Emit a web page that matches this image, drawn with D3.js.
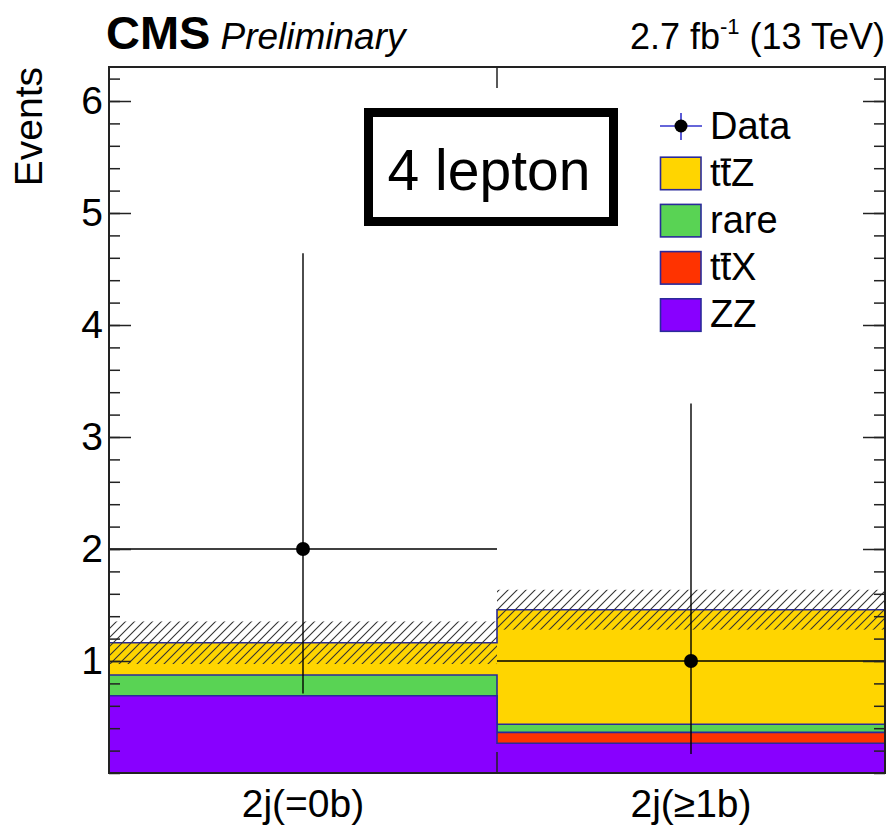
<!DOCTYPE html>
<html>
<head>
<meta charset="utf-8">
<script src="https://cdn.jsdelivr.net/npm/d3@7"></script>
<style>
  html, body { margin: 0; padding: 0; background: #fff; }
  svg { display: block; font-family: "Liberation Sans", Arial, Helvetica, sans-serif; }
</style>
</head>
<body>
<svg id="chart" width="889" height="830"></svg>
<script>
// Categories (jet / b-tag bins)
const categories = ["2j(=0b)", "2j(\u22651b)"];

// Expected yields per bin, stacked bottom to top: ZZ, ttX, rare, ttZ
const zzYield   = [0.69, 0.265];
const ttxYield  = [0.0, 0.098];
const rareYield = [0.185, 0.072];
const ttzYield  = [0.288, 1.023];

// Total background uncertainty (symmetric) per bin
const bkgUnc = [0.19, 0.178];

// Observed counts with asymmetric Poisson errors
const dataCounts  = [2, 1];
const dataErrLow  = [1.29, 0.83];
const dataErrHigh = [2.64, 2.30];

// Axis ticks
const yMajorTicks = [1, 2, 3, 4, 5, 6];
const yMinorTicks = d3.range(0, 6.31, 0.2);

// Process names, colours (legend order)
const legendNames  = ["Data", "ttZ", "rare", "ttX", "ZZ"];
const procColors   = { ttZ: "#ffd500", rare: "#59d354", ttX: "#ff3300", ZZ: "#8800ff" };
const outlineColor = "#2a2a9a";

const svg = d3.select("#chart");
const plotL = 109, plotR = 885, plotT = 67, plotB = 773;

const x = d3.scaleLinear().domain([0, categories.length]).range([plotL, plotR]);
const y = d3.scaleLinear().domain([0, (plotB - plotT) / 112]).range([plotB, plotT]);

// hatch pattern for the uncertainty band
const defs = svg.append("defs");
const pat = defs.append("pattern")
  .attr("id", "hatch").attr("patternUnits", "userSpaceOnUse")
  .attr("width", 9).attr("height", 9);
pat.append("path")
  .attr("d", "M0,9 L9,0 M-3,3 L3,-3 M6,12 L12,6")
  .attr("stroke", "#333").attr("stroke-width", 1.1);

// cumulative stacks
const layers = [
  { name: "ttZ",  vals: ttzYield },
  { name: "rare", vals: rareYield },
  { name: "ttX",  vals: ttxYield },
  { name: "ZZ",   vals: zzYield }
];
const order = ["ZZ", "ttX", "rare", "ttZ"];
const cum = {};
let running = categories.map(() => 0);
order.forEach(n => {
  const l = layers.find(d => d.name === n);
  running = running.map((v, i) => v + l.vals[i]);
  cum[n] = running.slice();
});
const total = cum["ttZ"];

function stepPath(tops) {
  let p = `M${x(0)},${y(0)}`;
  tops.forEach((t, i) => { p += ` V${y(t)} H${x(i + 1)}`; });
  p += ` V${y(0)} Z`;
  return p;
}

// draw from the full stack down so lower processes overlay
const stackG = svg.append("g");
["ttZ", "rare", "ttX", "ZZ"].forEach(n => {
  stackG.append("path")
    .attr("d", stepPath(cum[n]))
    .attr("fill", procColors[n])
    .attr("stroke", outlineColor)
    .attr("stroke-width", 1.6);
});

// uncertainty band
svg.append("g").selectAll("rect")
  .data(categories)
  .join("rect")
  .attr("x", (d, i) => x(i))
  .attr("width", (d, i) => x(i + 1) - x(i))
  .attr("y", (d, i) => y(total[i] + bkgUnc[i]))
  .attr("height", (d, i) => y(total[i] - bkgUnc[i]) - y(total[i] + bkgUnc[i]))
  .attr("fill", "url(#hatch)");

// data points
const dataG = svg.append("g");
categories.forEach((c, i) => {
  const cx = x(i + 0.5);
  dataG.append("line")
    .attr("x1", x(i)).attr("x2", x(i + 1))
    .attr("y1", y(dataCounts[i])).attr("y2", y(dataCounts[i]))
    .attr("stroke", "#000").attr("stroke-width", 1.4);
  dataG.append("line")
    .attr("x1", cx).attr("x2", cx)
    .attr("y1", y(dataCounts[i] - dataErrLow[i])).attr("y2", y(dataCounts[i] + dataErrHigh[i]))
    .attr("stroke", "#000").attr("stroke-width", 1.4);
  dataG.append("circle")
    .attr("cx", cx).attr("cy", y(dataCounts[i])).attr("r", 7)
    .attr("fill", "#000");
});

// frame
svg.append("rect")
  .attr("x", plotL).attr("y", plotT)
  .attr("width", plotR - plotL).attr("height", plotB - plotT)
  .attr("fill", "none").attr("stroke", "#222").attr("stroke-width", 2);

// y axis: minor ticks, major ticks with labels, mirrored on the right
const fmtNone = () => "";
svg.append("g").attr("transform", `translate(${plotL},0)`)
  .call(d3.axisLeft(y).tickValues(yMinorTicks).tickSizeInner(-11).tickSizeOuter(0).tickFormat(fmtNone))
  .call(g => g.select(".domain").remove());
svg.append("g").attr("transform", `translate(${plotL},0)`)
  .call(d3.axisLeft(y).tickValues(yMajorTicks).tickSizeInner(-22).tickSizeOuter(0).tickPadding(6).tickFormat(d3.format("d")))
  .call(g => g.select(".domain").remove())
  .call(g => g.selectAll("text")
    .attr("font-size", 39).attr("fill", "#000")
    .attr("font-family", "Liberation Sans, Arial, sans-serif"));
svg.append("g").attr("transform", `translate(${plotR},0)`)
  .call(d3.axisLeft(y).tickValues(yMinorTicks).tickSize(11).tickFormat(fmtNone))
  .call(g => g.select(".domain").remove());
svg.append("g").attr("transform", `translate(${plotR},0)`)
  .call(d3.axisLeft(y).tickValues(yMajorTicks).tickSize(22).tickFormat(fmtNone))
  .call(g => g.select(".domain").remove());
svg.selectAll(".tick line").attr("stroke", "#222").attr("stroke-width", 1.5);

// x axis: bin-edge ticks and category labels
const edges = d3.range(1, categories.length);
svg.append("g").selectAll("line.xb").data(edges).join("line")
  .attr("x1", d => x(d)).attr("x2", d => x(d))
  .attr("y1", plotB).attr("y2", plotB - 21)
  .attr("stroke", "#222").attr("stroke-width", 1.5);
svg.append("g").selectAll("line.xt").data(edges).join("line")
  .attr("x1", d => x(d)).attr("x2", d => x(d))
  .attr("y1", plotT).attr("y2", plotT + 21)
  .attr("stroke", "#222").attr("stroke-width", 1.5);
svg.append("g").selectAll("text").data(categories).join("text")
  .attr("x", (d, i) => x(i + 0.5)).attr("y", 817)
  .attr("text-anchor", "middle").attr("font-size", 39)
  .text(d => d);

// y axis title
svg.append("text")
  .attr("transform", `translate(42,${plotT}) rotate(-90)`)
  .attr("text-anchor", "end").attr("font-size", 39)
  .text("Events");

// header
const head = svg.append("text").attr("x", 106).attr("y", 49);
head.append("tspan").attr("font-weight", "bold").attr("font-size", 47).text("CMS");
head.append("tspan").attr("font-style", "italic").attr("font-size", 37).attr("dx", 10).text("Preliminary");

const lumi = svg.append("text").attr("x", plotR).attr("y", 49)
  .attr("text-anchor", "end").attr("font-size", 36);
lumi.append("tspan").text("2.7 fb");
lumi.append("tspan").attr("font-size", 22).attr("dy", -15).text("-1");
lumi.append("tspan").attr("dy", 15).text(" (13 TeV)");

// "4 lepton" box
svg.append("rect")
  .attr("x", 368.5).attr("y", 112.5).attr("width", 245).attr("height", 109)
  .attr("fill", "#fff").attr("stroke", "#000").attr("stroke-width", 9);
svg.append("text")
  .attr("x", 489).attr("y", 190).attr("text-anchor", "middle")
  .attr("font-size", 57).text("4 lepton");

// legend
const legX = 660, legTextX = 710, legY0 = 126, legDy = 47.2;
const leg = svg.append("g");
legendNames.forEach((name, i) => {
  const cy = legY0 + i * legDy;
  if (name === "Data") {
    leg.append("line").attr("x1", legX).attr("x2", legX + 42).attr("y1", cy).attr("y2", cy)
      .attr("stroke", "#3333cc").attr("stroke-width", 1.6);
    leg.append("line").attr("x1", legX + 21).attr("x2", legX + 21).attr("y1", cy - 13).attr("y2", cy + 14)
      .attr("stroke", "#3333cc").attr("stroke-width", 1.6);
    leg.append("circle").attr("cx", legX + 21).attr("cy", cy).attr("r", 6.5).attr("fill", "#000");
  } else {
    leg.append("rect").attr("x", legX + 0.5).attr("y", cy - 16).attr("width", 40.5).attr("height", 32.5)
      .attr("fill", procColors[name]).attr("stroke", outlineColor).attr("stroke-width", 1.6);
  }
  const base = cy + 12.5;
  const t = leg.append("text").attr("x", legTextX).attr("y", base).attr("font-size", 38);
  if (name === "ttZ" || name === "ttX") {
    t.text("tt" + name.slice(2));
    // bar over the second t (antiquark)
    const ext = t.node().getExtentOfChar(1);
    leg.append("line")
      .attr("x1", ext.x).attr("x2", ext.x + ext.width)
      .attr("y1", base - 26).attr("y2", base - 26)
      .attr("stroke", "#000").attr("stroke-width", 2.4);
  } else {
    t.text(name);
  }
});
</script>
</body>
</html>
